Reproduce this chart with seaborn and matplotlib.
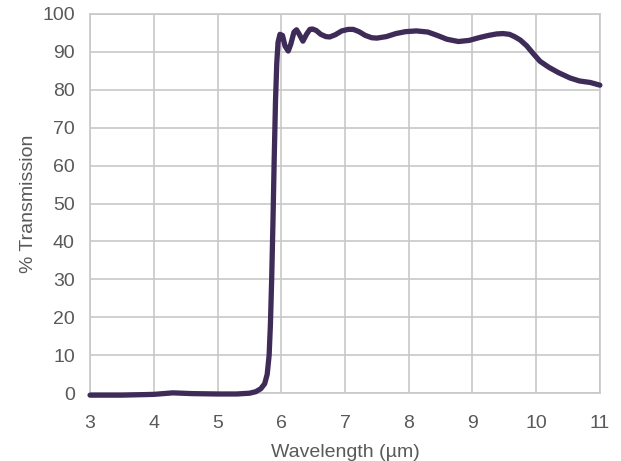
import matplotlib
matplotlib.use("Agg")
import matplotlib.pyplot as plt
import pandas as pd
import seaborn as sns

# values
wavelength = [3.0, 3.5, 4.0, 4.3, 4.6, 5.0, 5.3, 5.5, 5.6, 5.68, 5.74, 5.78, 5.81,
              5.83, 5.85, 5.87, 5.89, 5.91, 5.93, 5.95, 5.98, 6.02, 6.06, 6.11,
              6.15, 6.2, 6.24, 6.28, 6.34, 6.4, 6.45, 6.49, 6.55, 6.62, 6.7, 6.76,
              6.85, 6.95, 7.05, 7.13, 7.22, 7.32, 7.42, 7.5, 7.65, 7.8, 7.95, 8.12,
              8.3, 8.45, 8.6, 8.78, 8.95, 9.1, 9.25, 9.38, 9.48, 9.58, 9.66, 9.75,
              9.85, 9.95, 10.06, 10.2, 10.35, 10.53, 10.68, 10.85, 11.0]
transmission = [-0.5, -0.5, -0.3, 0.1, -0.1, -0.2, -0.2, 0.0, 0.4, 1.2, 2.5, 5.0, 10.0,
                18.0, 30.0, 45.0, 62.0, 77.0, 87.0, 92.5, 94.6, 94.3, 91.5, 90.2,
                92.0, 95.2, 95.8, 94.7, 92.8, 94.7, 95.9, 96.0, 95.6, 94.6, 94.0, 93.9,
                94.5, 95.5, 95.9, 95.9, 95.3, 94.3, 93.7, 93.6, 94.0, 94.8, 95.3, 95.5,
                95.2, 94.3, 93.3, 92.7, 93.0, 93.7, 94.3, 94.7, 94.8, 94.6, 94.0, 93.1,
                91.6, 89.6, 87.5, 85.9, 84.5, 83.1, 82.3, 81.9, 81.2]

x_ticks = list(range(3, 12))
y_ticks = list(range(0, 101, 10))

line_color = "#3e2b58"
grid_color = "#c8c8c8"
text_color = "#595959"

df = pd.DataFrame({"wavelength": wavelength, "transmission": transmission})

sns.set_style("white")
plt.rcParams["font.family"] = ["Liberation Sans", "DejaVu Sans"]

fig = plt.figure(figsize=(6.21, 4.61), dpi=100)
ax = fig.add_axes([0.145, 0.147, 0.821, 0.823])

sns.lineplot(data=df, x="wavelength", y="transmission", ax=ax,
             color=line_color, linewidth=3.8, solid_capstyle="round",
             zorder=3, clip_on=False)

ax.set_xlim(3, 11)
ax.set_ylim(0, 100)
ax.set_xticks(x_ticks)
ax.set_yticks(y_ticks)
ax.grid(True, color=grid_color, linewidth=1.2)
ax.set_axisbelow(True)
for side in ax.spines.values():
    side.set_color(grid_color)
    side.set_linewidth(1.2)
ax.tick_params(length=0, labelsize=14, colors=text_color)
ax.tick_params(axis="x", pad=16)
ax.tick_params(axis="y", pad=11)
ax.set_xlabel("Wavelength (µm)", fontsize=14, color=text_color, labelpad=8)
ax.set_ylabel("% Transmission", fontsize=14, color=text_color, labelpad=4)

fig.savefig("out.png", dpi=100)
